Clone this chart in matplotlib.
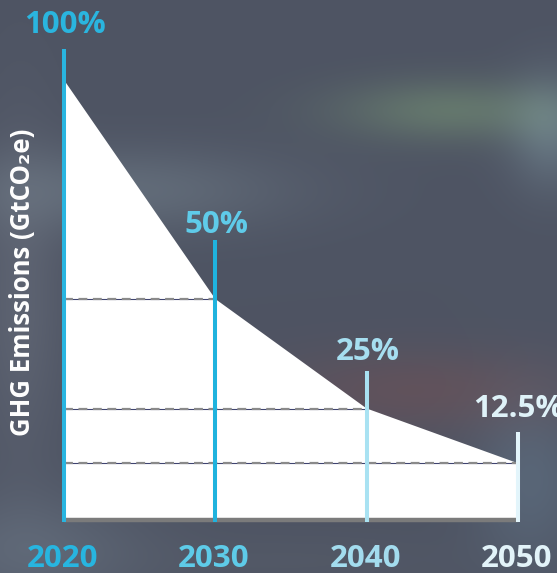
import numpy as np
import matplotlib
matplotlib.use("Agg")
import matplotlib.pyplot as plt
from matplotlib.colors import to_rgb

plt.rcParams['font.family'] = ['Open Sans', 'DejaVu Sans']

# ---- data ----
years = [2020, 2030, 2040, 2050]
emissions_pct = [100, 50, 25, 12.5]
pct_labels = ["100%", "50%", "25%", "12.5%"]
year_labels = ["2020", "2030", "2040", "2050"]
ylabel = "GHG Emissions (GtCO\u2082e)"

# ---- styling ----
line_colors = ["#29b5e0", "#1fb3de", "#a9e2f2", "#e3f5fb"]
label_colors = ["#2ab5df", "#5fcbe9", "#a6def0", "#dff2f8"]
year_colors = ["#27b5e0", "#5ecbe8", "#a3dcee", "#e2f3f9"]
line_tops = [107.1, 63.5, 33.6, 19.6]       # vertical line heights (layout)
label_base = [110.8, 65.1, 36.1, 23.1]       # label baselines (layout)

W, H = 557, 573
fig = plt.figure(figsize=(W / 100, H / 100), dpi=100)

# background image (blurred photo-like)
bg = fig.add_axes([0, 0, 1, 1], zorder=0)
yy, xx = np.mgrid[0:H, 0:W]
img = np.zeros((H, W, 3))
base = np.array(to_rgb("#4e5463"))
img[:] = base
def blob(cx, cy, sx, sy, col, a):
    g = np.exp(-(((xx - cx) / sx) ** 2 + ((yy - cy) / sy) ** 2) / 2)[..., None]
    return g * a * (np.array(to_rgb(col)) - base)
img += blob(450, 110, 80, 22, "#667a6e", 0.9)
img += blob(550, 130, 30, 40, "#6a7b88", 0.8)
img += blob(120, 190, 120, 30, "#66717e", 0.8)
img += blob(20, 300, 30, 120, "#636977", 0.7)
img += blob(420, 390, 110, 30, "#65525a", 0.8)
img += blob(530, 480, 40, 60, "#5b6a7c", 0.8)
img += blob(30, 550, 80, 40, "#616b7a", 0.8)
img += blob(300, 560, 120, 20, "#555b68", 0.6)
img = np.clip(img, 0, 1)
bg.imshow(img, extent=[0, W, H, 0], aspect='auto', interpolation='bilinear')
bg.set_xlim(0, W)
bg.set_ylim(H, 0)
bg.axis('off')

ax = fig.add_axes([0, 0, 1, 1], zorder=1)
ax.patch.set_alpha(0)
ppx = (518 - 64) / 30.0
ax.set_xlim(2020 - 64 / ppx, 2020 + (W - 64) / ppx)
ppy = 4.38
ax.set_ylim(-(H - 518) / ppy, 518 / ppy)
ax.axis('off')

# white area
xs = [years[0]] + years + [years[-1]]
ys = [0] + emissions_pct + [0]
ax.fill(xs, ys, color="white", zorder=2, lw=0)

# base bar
ax.plot([years[0], years[-1]], [-0.4, -0.4], color="#7b7b7b", lw=3.2,
        solid_capstyle='butt', zorder=3)

# dashed reference lines
for yr, v in zip(years[1:], emissions_pct[1:]):
    ax.plot([years[0], yr], [v, v], color="#3f4470", lw=0.8, zorder=3)
    ax.plot([years[0], yr], [v, v], color="#8a8a8a", lw=1.6,
            dashes=(4, 2.5), zorder=4)

# vertical lines
for yr, top, c in zip(years, line_tops, line_colors):
    ax.plot([yr, yr], [-1, top], color=c, lw=2.9, solid_capstyle='butt', zorder=5)

# percent labels
for yr, b, t, c in zip(years, label_base, pct_labels, label_colors):
    ax.text(yr + 0.05, b, t, color=c, fontsize=22.5, fontweight='bold',
            ha='center', va='baseline', zorder=6)

# year labels
for yr, t, c in zip(years, year_labels, year_colors):
    ax.text(yr - 0.1, -(567 - 518) / ppy, t, color=c, fontsize=22.5,
            fontweight='bold', ha='center', va='baseline', zorder=6)

# y label
fig.text(23 / W, 1 - 282 / H, ylabel, rotation=90, color="white",
         fontsize=18.5, fontweight='bold', ha='center', va='center')

fig.savefig("out.png", dpi=100)
